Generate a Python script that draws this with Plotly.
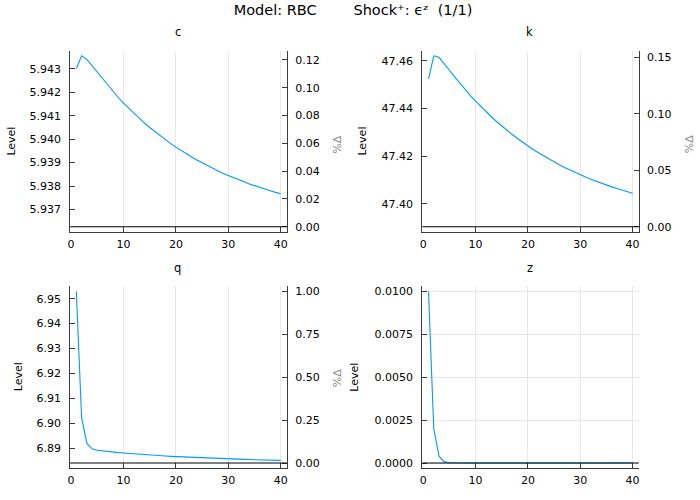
import plotly.graph_objects as go

# ---------------- data ----------------
periods = [1, 2, 3, 4, 5, 6, 7, 8, 9, 10, 11, 12, 13, 14, 15, 16, 17, 18, 19, 20,
           21, 22, 23, 24, 25, 26, 27, 28, 29, 30, 31, 32, 33, 34, 35, 36, 37, 38, 39, 40]

c_level = [5.94301, 5.94356, 5.94341, 5.94314, 5.94285, 5.94256, 5.94229, 5.94203, 5.94178, 5.94154,
           5.94132, 5.94110, 5.94089, 5.94069, 5.94050, 5.94032, 5.94014, 5.93997, 5.93981, 5.93966,
           5.93951, 5.93937, 5.93924, 5.93911, 5.93899, 5.93887, 5.93876, 5.93865, 5.93854, 5.93845,
           5.93835, 5.93826, 5.93818, 5.93809, 5.93801, 5.93794, 5.93787, 5.93780, 5.93773, 5.93767]
c_ss = 5.93626

k_level = [47.45239, 47.46213, 47.46152, 47.45894, 47.45607, 47.45326, 47.45054, 47.44794, 47.44545, 47.44307,
           47.44080, 47.43862, 47.43653, 47.43454, 47.43263, 47.43080, 47.42905, 47.42738, 47.42578, 47.42425,
           47.42278, 47.42138, 47.42004, 47.41875, 47.41753, 47.41635, 47.41523, 47.41415, 47.41312, 47.41214,
           47.41119, 47.41029, 47.40943, 47.40860, 47.40781, 47.40706, 47.40634, 47.40564, 47.40498, 47.40435]
k_ss = 47.39030

q_level = [6.95290, 6.90234, 6.89203, 6.88978, 6.88916, 6.88886, 6.88864, 6.88844, 6.88825, 6.88807,
           6.88789, 6.88773, 6.88757, 6.88742, 6.88727, 6.88713, 6.88700, 6.88687, 6.88675, 6.88664,
           6.88653, 6.88642, 6.88632, 6.88622, 6.88613, 6.88604, 6.88595, 6.88587, 6.88579, 6.88572,
           6.88565, 6.88558, 6.88551, 6.88545, 6.88539, 6.88533, 6.88528, 6.88522, 6.88517, 6.88513]
q_ss = 6.88406

z_level = [0.01, 0.002, 0.0004, 0.00008, 0.000016, 0.0000032, 0.00000064, 0.000000128, 0.0, 0.0,
           0.0, 0.0, 0.0, 0.0, 0.0, 0.0, 0.0, 0.0, 0.0, 0.0,
           0.0, 0.0, 0.0, 0.0, 0.0, 0.0, 0.0, 0.0, 0.0, 0.0,
           0.0, 0.0, 0.0, 0.0, 0.0, 0.0, 0.0, 0.0, 0.0, 0.0]
z_ss = 0.0

x_ticks = [0, 10, 20, 30, 40]
c_ticks = [5.937, 5.938, 5.939, 5.940, 5.941, 5.942, 5.943]
k_ticks = [47.40, 47.42, 47.44, 47.46]
q_ticks = [6.89, 6.90, 6.91, 6.92, 6.93, 6.94, 6.95]
z_ticks = [0.0, 0.0025, 0.005, 0.0075, 0.01]
c_pct_ticks = [0.0, 0.02, 0.04, 0.06, 0.08, 0.10, 0.12]
k_pct_ticks = [0.0, 0.05, 0.10, 0.15]
q_pct_ticks = [0.0, 0.25, 0.5, 0.75, 1.0]

title_text = "Model: RBC        Shock⁺: ϵᶻ  (1/1)"

# ---------------- layout helpers ----------------
W, H = 700, 500
FONT = "DejaVu Sans"
LINE_COLOR = "#009AFA"
SPINE = "#3c3c3c"


def fx(p):
    return p / W


def fy(p):
    return 1 - p / H


panels = [
    dict(name="c", y=c_level, ss=c_ss, ticks=c_ticks, fmt=".3f", pct=c_pct_ticks,
         box=(67.6, 285.5, 50.0, 232.3), title_xy=(176, 31.5), level_xy=(9, 140.5), pct_xy=(336.5, 145)),
    dict(name="k", y=k_level, ss=k_ss, ticks=k_ticks, fmt=".2f", pct=k_pct_ticks,
         box=(421.8, 639.4, 50.0, 232.3), title_xy=(530, 31.5), level_xy=(362, 140.5), pct_xy=(690, 144)),
    dict(name="q", y=q_level, ss=q_ss, ticks=q_ticks, fmt=".2f", pct=q_pct_ticks,
         box=(67.6, 285.5, 287.0, 470.0), title_xy=(176, 269), level_xy=(15.5, 378), pct_xy=(336.5, 380)),
    dict(name="z", y=z_level, ss=z_ss, ticks=z_ticks, fmt=".4f", pct=None,
         box=(421.8, 639.4, 287.0, 470.0), title_xy=(530, 269), level_xy=(354, 378), pct_xy=None),
]

fig = go.Figure()
layout = dict(
    width=W, height=H,
    margin=dict(l=0, r=0, t=0, b=0),
    paper_bgcolor="white", plot_bgcolor="white",
    showlegend=False,
    font=dict(family=FONT, size=11, color="black"),
    title=dict(text=title_text, x=353 / W, xanchor="center", y=fy(10), yanchor="middle",
               yref="container", font=dict(family=FONT, size=14.5, color="black")),
    shapes=[], annotations=[],
)

xspan = max(periods) - min(periods)
xrange = [min(periods) - 0.03 * xspan, max(periods) + 0.03 * xspan]

n_right = 4
for i, p in enumerate(panels, start=1):
    xs = "" if i == 1 else str(i)
    xref = "x" + xs
    yref = "y" + xs
    left, right, top, bottom = p["box"]

    lo = min(min(p["y"]), p["ss"])
    hi = max(max(p["y"]), p["ss"])
    pad = 0.03 * (hi - lo)
    yr = [lo - pad, hi + pad]

    fig.add_trace(go.Scatter(x=periods, y=p["y"], mode="lines",
                             line=dict(color=LINE_COLOR, width=1.1),
                             xaxis=xref, yaxis=yref, hoverinfo="skip"))

    layout["xaxis" + xs] = dict(
        domain=[fx(left), fx(right)], range=xrange, anchor=yref,
        showline=True, linecolor=SPINE, linewidth=1.2,
        ticks="inside", ticklen=5, tickwidth=1, tickcolor=SPINE,
        tickvals=x_ticks, showgrid=True, gridcolor="rgba(0,0,0,0.09)", gridwidth=1,
        zeroline=False, tickfont=dict(family=FONT, size=11, color="black"),
        ticklabelstandoff=2,
    )
    layout["yaxis" + xs] = dict(
        domain=[fy(bottom), fy(top)], range=yr, anchor=xref,
        showline=True, linecolor=SPINE, linewidth=1.2,
        ticks="inside", ticklen=5, tickwidth=1, tickcolor=SPINE,
        tickvals=p["ticks"], tickformat=p["fmt"],
        showgrid=(p["pct"] is None), gridcolor="rgba(0,0,0,0.09)", gridwidth=1,
        zeroline=False, tickfont=dict(family=FONT, size=11, color="black"),
        ticklabelstandoff=6,
    )

    # steady-state reference line
    layout["shapes"].append(dict(type="line", xref=xref + " domain", x0=0, x1=1,
                                 yref=yref, y0=p["ss"], y1=p["ss"],
                                 line=dict(color="black", width=1.1), layer="above"))

    # subplot title
    tx, ty = p["title_xy"]
    layout["annotations"].append(dict(text=p["name"], x=fx(tx), y=fy(ty), xref="paper", yref="paper",
                                      showarrow=False, xanchor="center", yanchor="middle",
                                      font=dict(family=FONT, size=11.5, color="black")))
    lx, ly = p["level_xy"]
    layout["annotations"].append(dict(text="Level", x=fx(lx), y=fy(ly), xref="paper", yref="paper",
                                      showarrow=False, xanchor="center", yanchor="middle", textangle=-90,
                                      font=dict(family=FONT, size=11, color="black")))

    if p["pct"] is not None:
        n_right += 1
        rs = str(n_right)
        pct_vals = [(v / p["ss"] - 1) * 100 for v in p["y"]]
        pr = [(yr[0] / p["ss"] - 1) * 100, (yr[1] / p["ss"] - 1) * 100]
        fig.add_trace(go.Scatter(x=periods, y=pct_vals, mode="lines",
                                 line=dict(color="rgba(0,0,0,0)", width=0),
                                 xaxis=xref, yaxis="y" + rs, hoverinfo="skip"))
        layout["yaxis" + rs] = dict(
            overlaying=yref, side="right", anchor=xref, range=pr,
            showline=True, linecolor=SPINE, linewidth=1.2,
            ticks="inside", ticklen=5, tickwidth=1, tickcolor=SPINE,
            tickvals=p["pct"], tickformat=".2f", showgrid=False, zeroline=False,
            tickfont=dict(family=FONT, size=11, color="black"),
            ticklabelstandoff=5,
        )
        px_, py_ = p["pct_xy"]
        layout["annotations"].append(dict(text="%Δ", x=fx(px_), y=fy(py_), xref="paper", yref="paper",
                                          showarrow=False, xanchor="center", yanchor="middle", textangle=-90,
                                          font=dict(family=FONT, size=11, color="#8a8a8a")))

fig.update_layout(**layout)
fig.write_html("out.html")
